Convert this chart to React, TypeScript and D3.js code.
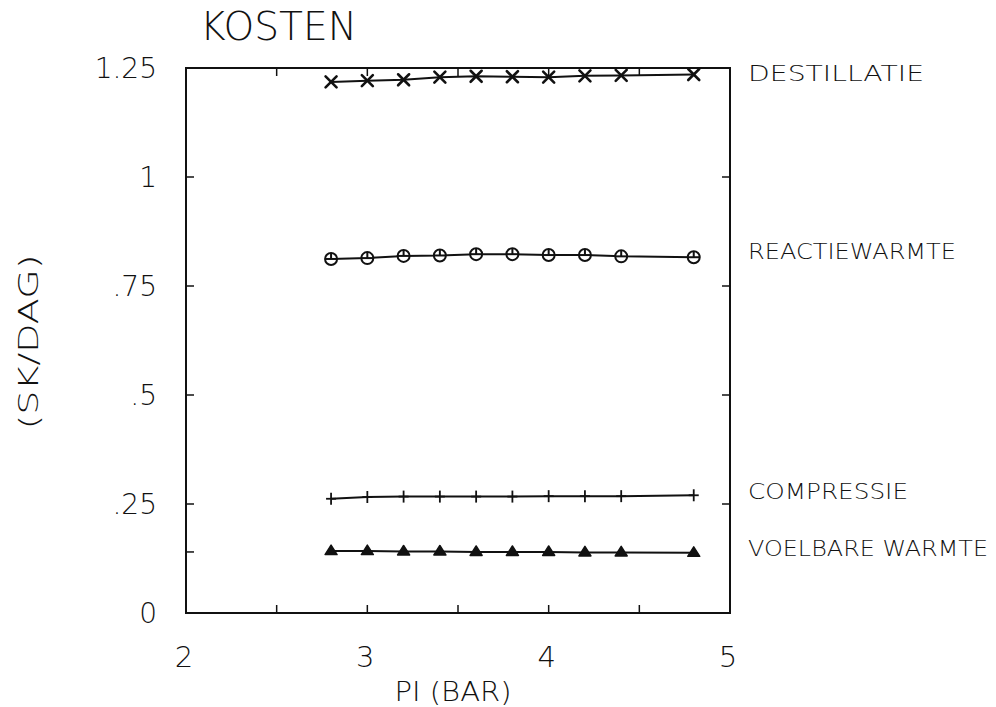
import React from "react";
import * as d3 from "d3";

// Pressure PI (bar) at which each cost was evaluated
const pressures = [2.8, 3.0, 3.2, 3.4, 3.6, 3.8, 4.0, 4.2, 4.4, 4.8];

// Daily cost per component (SK/DAG)
const destillatie = [1.218, 1.221, 1.223, 1.229, 1.231, 1.230, 1.229, 1.232, 1.233, 1.235];
const reactiewarmte = [0.812, 0.814, 0.819, 0.820, 0.823, 0.823, 0.821, 0.821, 0.818, 0.816];
const compressie = [0.262, 0.266, 0.267, 0.267, 0.267, 0.267, 0.268, 0.268, 0.268, 0.270];
const voelbareWarmte = [0.142, 0.142, 0.141, 0.141, 0.140, 0.140, 0.140, 0.139, 0.139, 0.138];

const seriesNames = ["DESTILLATIE", "REACTIEWARMTE", "COMPRESSIE", "VOELBARE WARMTE"];
const seriesMarkers = ["cross", "circle", "plus", "triangle"];
const seriesValues = [destillatie, reactiewarmte, compressie, voelbareWarmte];
// Label height on the right-hand side, in data units
const labelLevels = [1.238, 0.83, 0.28, 0.15];

const xTicks = [2, 3, 4, 5];
const xMinorTicks = [2.5, 3, 3.5, 4, 4.5];
const yTicks = [0, 0.25, 0.5, 0.75, 1, 1.25];
const yTickLabels = ["0", ".25", ".5", ".75", "1", "1.25"];
const yInnerTicks = [0.25, 0.5, 0.75, 1];
const yLeftExtraTicks = [0.14];

const W = 996;
const H = 707;
const FONT = "'DejaVu Sans', 'Liberation Sans', sans-serif";
const INK = "#111";

function Marker({ kind, cx, cy }: { kind: string; cx: number; cy: number }) {
  const s = 5.5;
  if (kind === "cross") {
    return (
      <g stroke={INK} strokeWidth={2.6} strokeLinecap="round">
        <line x1={cx - s} y1={cy - s} x2={cx + s} y2={cy + s} />
        <line x1={cx - s} y1={cy + s} x2={cx + s} y2={cy - s} />
      </g>
    );
  }
  if (kind === "circle") {
    return (
      <g stroke={INK} strokeWidth={2} fill="none">
        <circle cx={cx} cy={cy} r={6} fill="#fff" />
        <line x1={cx - 6} y1={cy} x2={cx + 6} y2={cy} />
        <line x1={cx} y1={cy - 6} x2={cx} y2={cy} />
      </g>
    );
  }
  if (kind === "plus") {
    return (
      <g stroke={INK} strokeWidth={1.8}>
        <line x1={cx} y1={cy - 6} x2={cx} y2={cy + 6} />
        <line x1={cx - 5} y1={cy} x2={cx + 5} y2={cy} />
      </g>
    );
  }
  // triangle
  const path = d3.path();
  path.moveTo(cx, cy - 6);
  path.lineTo(cx + 6, cy + 3.5);
  path.lineTo(cx - 6, cy + 3.5);
  path.closePath();
  return <path d={path.toString()} fill={INK} stroke={INK} strokeWidth={1.5} strokeLinejoin="round" />;
}

export default function App() {
  const x = d3.scaleLinear().domain([2, 5]).range([186, 730]);
  const y = d3.scaleLinear().domain([0, 1.25]).range([613, 68]);
  const line = d3
    .line<[number, number]>()
    .x((d) => x(d[0]))
    .y((d) => y(d[1]));

  const tickLen = 8;
  const [x0, x1] = x.range();
  const [y0, y1] = y.range();

  return (
    <svg
      width={W}
      height={H}
      viewBox={`0 0 ${W} ${H}`}
      style={{ position: "absolute", left: 0, top: 0, background: "#fff" }}
      fontFamily={FONT}
    >
      <rect width={W} height={H} fill="#fff" />

      {/* Title */}
      <text x={200} y={40} fontSize={39} fill={INK} textLength={157} lengthAdjust="spacingAndGlyphs" fontWeight={200}>
        KOSTEN
      </text>

      {/* Frame */}
      <rect x={x0} y={y1} width={x1 - x0} height={y0 - y1} fill="none" stroke={INK} strokeWidth={2} />

      {/* Ticks on bottom and top edges */}
      {xMinorTicks.map((t) => (
        <g key={"xt" + t} stroke={INK} strokeWidth={1.5}>
          <line x1={x(t)} x2={x(t)} y1={y0} y2={y0 - tickLen} />
          <line x1={x(t)} x2={x(t)} y1={y1} y2={y1 + tickLen} />
        </g>
      ))}
      {/* Ticks on left and right edges */}
      {yInnerTicks.map((t) => (
        <g key={"yt" + t} stroke={INK} strokeWidth={1.5}>
          <line x1={x0} x2={x0 + tickLen} y1={y(t)} y2={y(t)} />
          <line x1={x1} x2={x1 - tickLen} y1={y(t)} y2={y(t)} />
        </g>
      ))}
      {yLeftExtraTicks.map((t) => (
        <line key={"ye" + t} x1={x0} x2={x0 + tickLen} y1={y(t)} y2={y(t)} stroke={INK} strokeWidth={1.5} />
      ))}

      {/* X tick labels */}
      {xTicks.map((t) => (
        <text key={"xl" + t} x={x(t) - 2} y={667} fontSize={29} textAnchor="middle" fill={INK} fontWeight={300}>
          {t}
        </text>
      ))}
      <text x={453} y={701} fontSize={27} textAnchor="middle" fill={INK} textLength={117} lengthAdjust="spacingAndGlyphs" fontWeight={300}>
        PI (BAR)
      </text>

      {/* Y tick labels */}
      {yTicks.map((t, i) => (
        <text key={"yl" + t} x={157} y={y(t) + 10} fontSize={28} textAnchor="end" fill={INK} fontWeight={300}>
          {yTickLabels[i]}
        </text>
      ))}
      <text
        transform="translate(38,342) rotate(-90)"
        fontSize={27}
        textAnchor="middle"
        fill={INK}
        textLength={175}
        lengthAdjust="spacingAndGlyphs"
        fontWeight={300}
      >
        (SK/DAG)
      </text>

      {/* Series lines and markers */}
      {seriesValues.map((vals, si) => {
        const pts = pressures.map((p, i) => [p, vals[i]] as [number, number]);
        return (
          <g key={seriesNames[si]}>
            <path d={line(pts) || ""} fill="none" stroke={INK} strokeWidth={2} />
            {pts.map((d, i) => (
              <Marker key={i} kind={seriesMarkers[si]} cx={x(d[0])} cy={y(d[1])} />
            ))}
          </g>
        );
      })}

      {/* Series labels */}
      {seriesNames.map((name, i) => (
        <text
          key={"lab" + name}
          x={748}
          y={y(labelLevels[i]) + 8}
          fontSize={22}
          fill={INK}
          textLength={name.length * 16}
          lengthAdjust="spacingAndGlyphs"
          fontWeight={300}
        >
          {name}
        </text>
      ))}
    </svg>
  );
}
